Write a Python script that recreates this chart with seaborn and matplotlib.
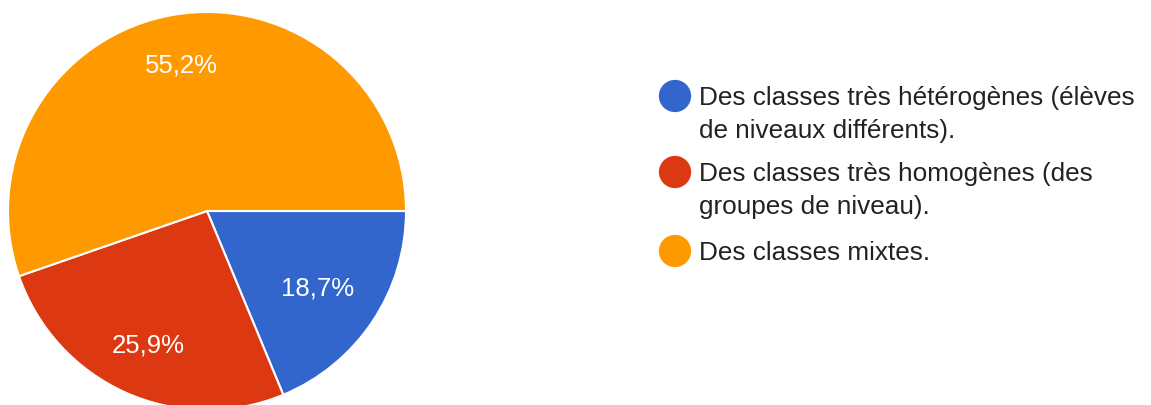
import numpy as np
import matplotlib
matplotlib.use("Agg")
import matplotlib.pyplot as plt
import seaborn as sns

labels = ["Des classes très hétérogènes (élèves\nde niveaux différents).",
          "Des classes très homogènes (des\ngroupes de niveau).",
          "Des classes mixtes."]
shares = [18.7, 25.9, 55.2]
colors = ["#3366CC", "#DC3912", "#FF9900"]

sns.set_theme(style="white")
plt.rcParams['font.family'] = ['Liberation Sans', 'DejaVu Sans']

W, H = 1151, 406
fig = plt.figure(figsize=(W / 100, H / 100), dpi=100)
fig.patch.set_facecolor("white")

# pie: centre at (207, 212) px, radius 199 px
cx, cy, r = 207, 212, 199
ax = fig.add_axes([(cx - r) / W, (H - cy - r) / H, 2 * r / W, 2 * r / H])
wedges, _ = ax.pie(
    shares, colors=colors, startangle=0, counterclock=False,
    wedgeprops=dict(edgecolor="white", linewidth=1.5))
ax.set_xlim(-1, 1)
ax.set_ylim(-1, 1)
ax.set_aspect("equal")

dists = [0.67, 0.72, 0.76]
for w, s, d in zip(wedges, shares, dists):
    mid = np.deg2rad((w.theta1 + w.theta2) / 2)
    ax.text(d * np.cos(mid), d * np.sin(mid), f"{s:.1f}%".replace(".", ","),
            color="white", fontsize=18.5, ha="center", va="center_baseline")

# legend drawn in pixel coordinates
lg = fig.add_axes([0, 0, 1, 1])
lg.set_xlim(0, W)
lg.set_ylim(H, 0)
lg.axis("off")
rows = [97, 173, 252]
for y, lab, col in zip(rows, labels, colors):
    lg.scatter([675], [y], s=540, color=col, edgecolor="none")
    lg.text(699, y - 11, lab, fontsize=18.8, color="#222222",
            va="top", ha="left", linespacing=1.45)

fig.savefig("out.png", dpi=100, facecolor="white")
